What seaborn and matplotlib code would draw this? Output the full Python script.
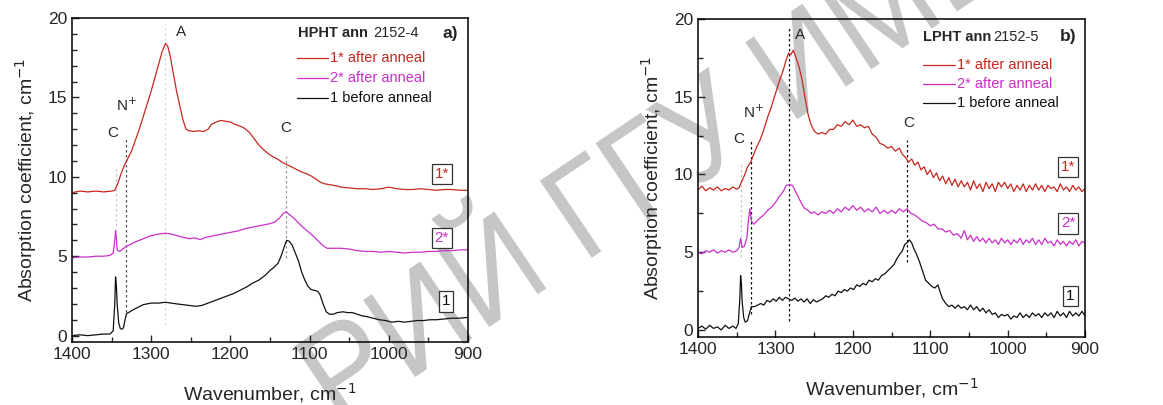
import numpy as np
import pandas as pd
import seaborn as sns
import matplotlib.pyplot as plt
from matplotlib.ticker import MultipleLocator
from matplotlib.textpath import TextPath
from matplotlib.patches import PathPatch
from matplotlib.font_manager import FontProperties
from matplotlib.transforms import Affine2D

# ---- data: (wavenumber, absorption) ----
# panel a) HPHT ann 2152-4
a_red = [(1400, 9.0), (1390, 9.1), (1380, 9.05), (1370, 9.1), (1360, 9.05), (1350, 9.1), (1346, 9.15),
         (1342, 9.6), (1338, 10.2), (1334, 10.7), (1330, 11.1), (1325, 11.6), (1320, 12.3), (1315, 13.0),
         (1310, 13.8), (1305, 14.6), (1300, 15.4), (1295, 16.3), (1290, 17.2), (1286, 17.9), (1282, 18.4),
         (1279, 18.2), (1276, 17.6), (1272, 16.5), (1268, 15.4), (1264, 14.5), (1260, 13.6), (1256, 13.0),
         (1252, 12.9), (1246, 12.85), (1240, 12.9), (1234, 12.85), (1228, 13.0), (1224, 13.3), (1218, 13.45),
         (1212, 13.55), (1206, 13.5), (1200, 13.45), (1194, 13.3), (1188, 13.2), (1182, 13.05), (1176, 12.8),
         (1170, 12.4), (1164, 12.0), (1158, 11.7), (1152, 11.45), (1146, 11.25), (1140, 11.1), (1134, 10.9),
         (1128, 10.75), (1122, 10.6), (1116, 10.45), (1110, 10.3), (1104, 10.2), (1098, 10.05), (1092, 9.85),
         (1086, 9.65), (1080, 9.55), (1074, 9.5), (1068, 9.45), (1060, 9.35), (1050, 9.3), (1040, 9.25),
         (1030, 9.25), (1020, 9.2), (1010, 9.25), (1000, 9.35), (990, 9.25), (980, 9.2), (970, 9.2),
         (960, 9.25), (950, 9.2), (940, 9.15), (930, 9.2), (920, 9.2), (910, 9.15), (900, 9.15)]
a_mag = [(1400, 4.9), (1390, 4.95), (1380, 4.95), (1370, 5.0), (1360, 5.0), (1352, 5.05), (1348, 5.2),
         (1346, 6.0), (1345, 6.6), (1344, 6.2), (1343, 5.4), (1340, 5.3), (1336, 5.45), (1332, 5.6),
         (1326, 5.75), (1320, 5.9), (1310, 6.1), (1300, 6.3), (1290, 6.4), (1282, 6.45), (1275, 6.4),
         (1268, 6.3), (1260, 6.2), (1252, 6.1), (1245, 6.15), (1238, 6.05), (1230, 6.2), (1220, 6.3),
         (1210, 6.4), (1200, 6.5), (1190, 6.6), (1180, 6.75), (1170, 6.85), (1160, 6.95), (1150, 7.05),
         (1144, 7.15), (1138, 7.4), (1133, 7.7), (1130, 7.8), (1126, 7.65), (1120, 7.4), (1114, 7.1),
         (1108, 6.8), (1102, 6.55), (1096, 6.3), (1090, 6.0), (1084, 5.7), (1078, 5.5), (1070, 5.5),
         (1060, 5.5), (1050, 5.45), (1040, 5.35), (1030, 5.3), (1020, 5.3), (1010, 5.25), (1000, 5.3),
         (990, 5.25), (980, 5.2), (970, 5.25), (960, 5.25), (950, 5.3), (940, 5.3), (930, 5.35),
         (920, 5.35), (910, 5.4), (900, 5.4)]
a_blk = [(1400, 0.0), (1390, 0.05), (1380, 0.0), (1370, 0.05), (1360, 0.1), (1352, 0.1), (1348, 0.3),
         (1346, 2.0), (1345, 3.7), (1344, 3.2), (1343, 2.0), (1341, 0.8), (1339, 0.45), (1337, 0.4),
         (1335, 0.5), (1333, 1.0), (1331, 1.4), (1327, 1.5), (1322, 1.65), (1316, 1.8), (1310, 1.95),
         (1300, 2.05), (1290, 2.05), (1282, 2.1), (1275, 2.05), (1268, 2.0), (1260, 1.95), (1252, 1.9),
         (1244, 1.85), (1236, 1.9), (1228, 2.05), (1220, 2.2), (1212, 2.35), (1204, 2.5), (1196, 2.65),
         (1188, 2.85), (1180, 3.05), (1172, 3.3), (1164, 3.5), (1156, 3.8), (1150, 4.1), (1145, 4.3),
         (1140, 4.55), (1136, 5.0), (1132, 5.6), (1129, 6.0), (1126, 5.95), (1122, 5.7), (1118, 5.2),
         (1114, 4.7), (1110, 4.0), (1106, 3.5), (1102, 3.1), (1098, 2.9), (1094, 2.85), (1090, 2.8),
         (1087, 2.6), (1083, 2.0), (1079, 1.5), (1075, 1.35), (1070, 1.35), (1065, 1.45), (1058, 1.5),
         (1052, 1.45), (1046, 1.45), (1040, 1.35), (1034, 1.25), (1028, 1.2), (1020, 1.1), (1012, 1.0),
         (1004, 0.95), (996, 0.85), (988, 0.9), (980, 0.85), (972, 0.9), (964, 0.95), (956, 0.95),
         (948, 1.0), (940, 1.0), (930, 1.05), (920, 1.1), (910, 1.1), (900, 1.15)]

# panel b) LPHT ann 2152-5
b_red = [(1400, 9.0), (1395, 9.25), (1390, 8.95), (1385, 9.15), (1380, 9.0), (1375, 9.2), (1370, 8.95),
         (1365, 9.1), (1360, 9.0), (1355, 9.2), (1350, 9.05), (1347, 9.15), (1344, 9.5), (1340, 9.95),
         (1336, 10.5), (1332, 10.8), (1328, 11.3), (1324, 11.8), (1320, 12.2), (1315, 12.9), (1310, 13.7),
         (1305, 14.4), (1300, 15.2), (1295, 16.0), (1290, 16.7), (1286, 17.4), (1283, 17.8), (1280, 17.7),
         (1277, 18.0), (1274, 17.6), (1270, 17.0), (1266, 16.2), (1262, 15.0), (1258, 13.9), (1254, 13.2),
         (1250, 12.8), (1245, 12.6), (1240, 12.7), (1235, 12.6), (1230, 12.9), (1225, 12.9), (1220, 13.2),
         (1215, 13.1), (1210, 13.4), (1205, 13.2), (1200, 13.5), (1195, 13.1), (1190, 13.2), (1185, 13.0),
         (1180, 13.1), (1175, 12.6), (1170, 12.4), (1165, 12.0), (1160, 11.9), (1155, 11.7), (1150, 11.8),
         (1145, 11.5), (1140, 11.7), (1136, 11.3), (1132, 11.1), (1128, 10.8), (1124, 11.0), (1120, 10.6),
         (1116, 10.8), (1112, 10.3), (1108, 10.5), (1104, 10.0), (1100, 10.3), (1096, 9.8), (1092, 10.1),
         (1088, 9.6), (1084, 9.9), (1080, 9.4), (1076, 9.8), (1072, 9.3), (1068, 9.7), (1064, 9.2),
         (1060, 9.6), (1056, 9.2), (1052, 9.5), (1048, 9.0), (1044, 9.6), (1040, 9.1), (1036, 9.4),
         (1032, 8.9), (1028, 9.5), (1024, 9.1), (1020, 9.4), (1016, 8.9), (1012, 9.5), (1008, 9.2),
         (1004, 9.5), (1000, 9.1), (996, 9.4), (992, 8.9), (988, 9.3), (984, 9.0), (980, 9.4), (976, 8.9),
         (972, 9.3), (968, 9.0), (964, 9.4), (960, 9.0), (956, 9.3), (952, 8.9), (948, 9.3), (944, 9.1),
         (940, 9.2), (936, 8.9), (932, 9.4), (928, 9.0), (924, 9.2), (920, 8.9), (916, 9.3), (912, 9.0),
         (908, 9.2), (904, 8.9), (900, 9.1)]
b_mag = [(1400, 5.0), (1395, 4.9), (1390, 5.1), (1385, 5.0), (1380, 5.15), (1375, 4.95), (1370, 5.1),
         (1365, 5.0), (1360, 5.15), (1355, 5.0), (1350, 5.1), (1347, 5.3), (1345, 5.9), (1343, 5.3),
         (1340, 5.4), (1337, 5.9), (1335, 7.0), (1333, 7.8), (1331, 7.0), (1328, 6.8), (1324, 7.0),
         (1320, 7.2), (1315, 7.4), (1310, 7.7), (1305, 7.9), (1300, 8.2), (1295, 8.6), (1290, 8.9),
         (1286, 9.3), (1282, 9.35), (1278, 9.3), (1274, 8.9), (1270, 8.5), (1266, 8.1), (1262, 7.8),
         (1258, 7.7), (1254, 7.5), (1250, 7.6), (1245, 7.4), (1240, 7.6), (1235, 7.5), (1230, 7.7),
         (1225, 7.5), (1220, 7.8), (1215, 7.6), (1210, 7.9), (1205, 7.7), (1200, 8.0), (1195, 7.7),
         (1190, 7.9), (1185, 7.6), (1180, 7.8), (1175, 7.6), (1170, 7.9), (1165, 7.5), (1160, 7.7),
         (1155, 7.5), (1150, 7.7), (1145, 7.5), (1140, 7.8), (1135, 7.6), (1130, 7.8), (1125, 7.5),
         (1120, 7.4), (1115, 7.2), (1110, 7.0), (1105, 6.9), (1100, 6.7), (1095, 6.8), (1090, 6.5),
         (1085, 6.5), (1080, 6.3), (1075, 6.4), (1070, 6.1), (1065, 6.2), (1060, 5.9), (1056, 6.4),
         (1052, 5.8), (1048, 6.1), (1044, 5.7), (1040, 6.0), (1036, 5.7), (1032, 5.9), (1028, 5.6),
         (1024, 5.9), (1020, 5.6), (1016, 5.8), (1012, 5.5), (1008, 5.9), (1004, 5.6), (1000, 5.8),
         (996, 5.5), (992, 5.8), (988, 5.6), (984, 5.9), (980, 5.5), (976, 5.8), (972, 5.6), (968, 5.9),
         (964, 5.5), (960, 5.8), (956, 5.5), (952, 5.9), (948, 5.6), (944, 5.7), (940, 5.4), (936, 5.8),
         (932, 5.5), (928, 5.7), (924, 5.4), (920, 5.7), (916, 5.5), (912, 5.8), (908, 5.4), (904, 5.7),
         (900, 5.6)]
b_blk = [(1400, 0.1), (1395, 0.25), (1390, 0.05), (1385, 0.3), (1380, 0.1), (1375, 0.2), (1370, 0.0),
         (1365, 0.3), (1360, 0.1), (1355, 0.25), (1351, 0.1), (1348, 0.4), (1346, 2.0), (1345, 3.5),
         (1344, 3.0), (1343, 1.8), (1341, 0.8), (1339, 0.5), (1336, 0.6), (1334, 1.0), (1331, 1.5),
         (1327, 1.5), (1323, 1.6), (1319, 1.7), (1315, 1.6), (1311, 1.9), (1307, 1.8), (1303, 2.0),
         (1299, 1.85), (1295, 2.1), (1291, 1.9), (1287, 2.1), (1283, 2.0), (1279, 1.9), (1275, 2.05),
         (1271, 1.85), (1267, 2.0), (1263, 1.8), (1259, 2.0), (1255, 1.7), (1251, 1.95), (1247, 1.8),
         (1243, 1.9), (1239, 2.0), (1235, 2.2), (1231, 2.1), (1227, 2.3), (1223, 2.2), (1219, 2.5),
         (1215, 2.4), (1211, 2.6), (1207, 2.5), (1203, 2.7), (1199, 2.6), (1195, 2.9), (1191, 2.8),
         (1187, 3.0), (1183, 2.9), (1179, 3.2), (1175, 3.1), (1171, 3.3), (1167, 3.2), (1163, 3.5),
         (1159, 3.6), (1155, 3.8), (1151, 4.0), (1147, 4.2), (1143, 4.6), (1139, 4.9), (1136, 5.1),
         (1133, 5.5), (1130, 5.6), (1127, 5.8), (1124, 5.6), (1121, 5.2), (1118, 4.9), (1114, 4.4),
         (1110, 3.8), (1106, 3.2), (1102, 3.0), (1098, 2.8), (1094, 2.7), (1090, 2.9), (1087, 2.4),
         (1084, 2.0), (1080, 1.7), (1076, 1.5), (1072, 1.6), (1068, 1.4), (1064, 1.6), (1060, 1.4),
         (1056, 1.5), (1052, 1.3), (1048, 1.6), (1044, 1.3), (1040, 1.5), (1036, 1.2), (1032, 1.4),
         (1028, 1.1), (1024, 1.3), (1020, 1.0), (1016, 1.1), (1012, 0.8), (1008, 1.0), (1004, 0.9),
         (1000, 1.0), (996, 0.7), (992, 0.9), (988, 0.8), (984, 1.1), (980, 0.8), (976, 1.0), (972, 0.8),
         (968, 1.1), (964, 0.9), (960, 1.05), (956, 0.8), (952, 1.1), (948, 0.9), (944, 1.1), (940, 0.8),
         (936, 1.2), (932, 0.9), (928, 1.1), (924, 0.8), (920, 1.2), (916, 0.9), (912, 1.1), (908, 0.9),
         (904, 1.2), (900, 0.9)]

series_labels = ["1* after anneal", "2* after anneal", "1 before anneal"]
box_labels = ["1*", "2*", "1"]
colors = ["#c8281e", "#cc2fcc", "#111111"]
watermark = "РИЙ ГГУ ИМЕНИ"

sns.set_theme(style="ticks")
plt.rcParams['font.family'] = ['Liberation Sans', 'DejaVu Sans']

fig = plt.figure(figsize=(11.63, 4.05), dpi=100)
ax1 = fig.add_axes([0.0619, 0.1556, 0.3405, 0.80])
ax2 = fig.add_axes([0.6002, 0.168, 0.3328, 0.785])


def draw_panel(ax, data, ylo, yminor, sample, tag, lines, notes, boxes, leg):
    ax.set_facecolor("none")
    for d, c in zip(data, colors):
        df = pd.DataFrame(d, columns=["wn", "k"])
        sns.lineplot(data=df, x="wn", y="k", color=c, lw=0.9, ax=ax, estimator=None)
    for x0, y0, y1, lc in lines:
        ax.plot([x0, x0], [y0, y1], ls=(0, (2, 2)), lw=0.9, color=lc, zorder=1)
    for txt, x0, y0 in notes:
        ax.text(x0, y0, txt, fontsize=11, ha="center", va="center")
    for txt, c, (x0, y0) in zip(box_labels, colors, boxes):
        ax.text(x0, y0, txt, color=c, fontsize=11, ha="center", va="center",
                bbox=dict(boxstyle="square,pad=0.2", fc="white", ec="#333333", lw=0.9))
    # title + legend
    tx, ty, tx2, lx0, lx1, lty = leg
    ax.text(tx, ty, sample, fontsize=10.5, fontweight="bold", va="center")
    ax.text(tx2, ty, tag[0], fontsize=10.5, va="center")
    ax.text(932, ty, tag[1], fontsize=12.5, fontweight="bold", va="center")
    for lab, c, yy in zip(series_labels, colors, lty):
        ax.plot([lx0, lx1], [yy, yy], color=c, lw=0.9)
        ax.text(lx1 - 3, yy, lab, color=c, fontsize=10.5, va="center")

    ax.set_xlim(1400, 900)
    ax.set_ylim(ylo, 20)
    ax.xaxis.set_major_locator(MultipleLocator(100))
    ax.xaxis.set_minor_locator(MultipleLocator(50))
    ax.yaxis.set_major_locator(MultipleLocator(5))
    ax.yaxis.set_minor_locator(MultipleLocator(yminor))
    ax.tick_params(which="both", direction="in", top=False, right=False, labelsize=12.5, width=1)
    ax.tick_params(which="major", length=5)
    ax.tick_params(which="minor", length=3.5)
    for s in ax.spines.values():
        s.set_linewidth(1.1)
        s.set_color("black")
    ax.set_xlabel("Wavenumber, cm$^{-1}$", fontsize=14, labelpad=14)
    ax.set_ylabel("Absorption coefficient, cm$^{-1}$", fontsize=14, labelpad=6)


draw_panel(ax1, [a_red, a_mag, a_blk], -0.4, 1, "HPHT ann", ("2152-4", "a)"),
           [(1345, 6.6, 10.6, "#c8c8c8"), (1332, 1.5, 12.4, "#555555"),
            (1282, 0.7, 19.6, "#d8d8d8"), (1130, 4.9, 11.3, "#999999")],
           [("A", 1262, 19.1), ("N$^{+}$", 1331, 14.5), ("C", 1348, 12.75), ("C", 1130, 13.1)],
           [(933, 10.2), (933, 6.15), (928, 2.15)],
           (1115, 19.05, 1019, 1116, 1077, (17.45, 16.2, 14.95)))

draw_panel(ax2, [b_red, b_mag, b_blk], -0.45, 2.5, "LPHT ann", ("2152-5", "b)"),
           [(1345, 4.7, 10.7, "#c8c8c8"), (1332, 1.0, 12.2, "#111111"),
            (1282, 0.6, 19.4, "#111111"), (1130, 4.4, 12.2, "#111111")],
           [("A", 1268, 19.0), ("N$^{+}$", 1329, 14.0), ("C", 1348, 12.3), ("C", 1128, 13.3)],
           [(922, 10.5), (922, 6.85), (919, 2.2)],
           (1110, 18.85, 1018, 1110, 1068, (17.05, 15.85, 14.6)))

# watermark of the repository (tall letters, rotated), in pixel units, behind the curves
wm_path = TextPath((0, 0), watermark, size=1, prop=FontProperties(family="Liberation Sans"))
wm_tr = Affine2D().scale(0.92 * 135, 135).rotate_deg(34).translate(338, -24)
fig.patches.append(PathPatch(wm_tr.transform_path(wm_path), transform=None,
                             fc="#c6c6c6", ec="none", zorder=-1))

fig.savefig("out.png", dpi=100)
